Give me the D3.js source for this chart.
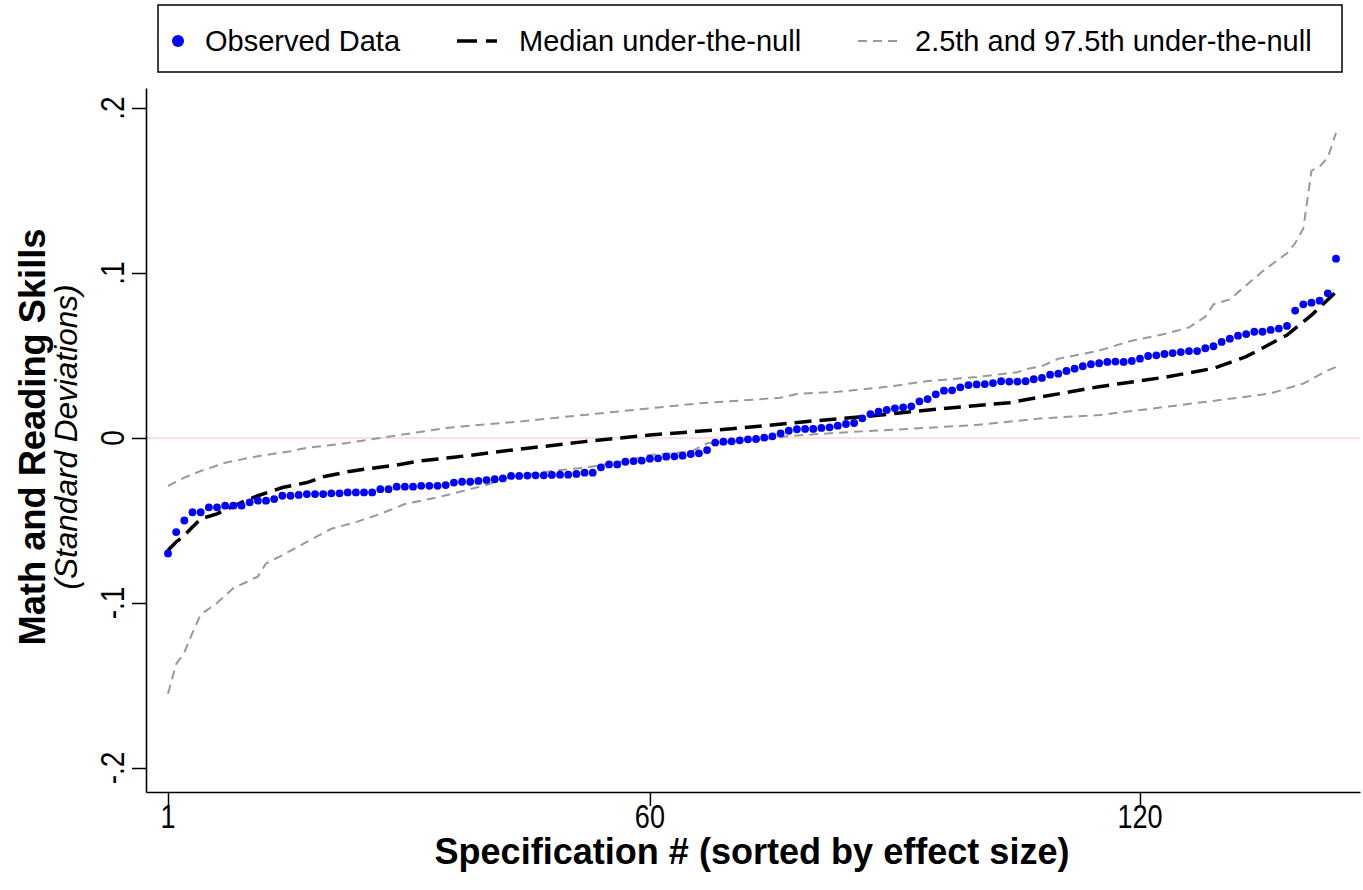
<!DOCTYPE html>
<html><head><meta charset="utf-8">
<script src="https://cdn.jsdelivr.net/npm/d3@7"></script>
<style>
body{margin:0;background:#fff}
svg{display:block}
text{font-family:"Liberation Sans",Arial,Helvetica,sans-serif;fill:#000}
</style>
</head><body>
<svg id="c" width="1363" height="890"></svg>
<script>
// ---------------- DATA ----------------
const observed = [
-0.070,-0.057,-0.050,-0.045,-0.045,-0.042,-0.042,-0.041,-0.041,-0.041,
-0.039,-0.038,-0.038,-0.037,-0.035,-0.035,-0.0345,-0.034,-0.034,-0.034,
-0.0335,-0.0335,-0.033,-0.033,-0.033,-0.033,-0.031,-0.031,-0.0295,-0.0295,
-0.0295,-0.029,-0.029,-0.029,-0.0285,-0.027,-0.0265,-0.0265,-0.026,-0.0255,
-0.025,-0.0245,-0.023,-0.023,-0.0228,-0.0226,-0.0226,-0.0224,-0.0222,-0.0222,
-0.0218,-0.021,-0.021,-0.0178,-0.016,-0.016,-0.0144,-0.014,-0.0137,-0.0125,
-0.0123,-0.0113,-0.0111,-0.0107,-0.0097,-0.0093,-0.0073,-0.0028,-0.0022,-0.002,
-0.0014,-0.0008,-0.0006,0.0002,0.001,0.0028,0.0044,0.0053,0.0055,0.0055,
0.0061,0.0065,0.0075,0.0085,0.0091,0.0119,0.0145,0.0159,0.017,0.018,
0.0186,0.0192,0.0222,0.0236,0.0265,0.0287,0.0289,0.0307,0.0321,0.0325,
0.0327,0.0333,0.0344,0.0342,0.0342,0.0344,0.0356,0.0364,0.0384,0.039,
0.0406,0.042,0.0435,0.0447,0.0453,0.0461,0.0463,0.0461,0.0467,0.0481,
0.0497,0.0501,0.0509,0.0515,0.0521,0.0527,0.0527,0.0544,0.0556,0.0582,
0.0602,0.062,0.063,0.0644,0.0644,0.0655,0.0663,0.0679,0.0772,0.081,
0.082,0.0832,0.0877,0.1087
];

const medianSpec = [1,2,3,4,5,7,10,12,15,18,20,23,25,29,32,36,44,52,60,68,72,79,87,95,104,107,115,123,129,133,138,141,144];
const medianVal  = [-0.068,-0.063,-0.059,-0.054,-0.049,-0.046,-0.039,-0.035,-0.030,-0.027,-0.0235,-0.0205,-0.019,-0.0164,-0.0138,-0.0117,-0.0068,-0.0022,0.0018,0.0048,0.0065,0.0099,0.0133,0.0174,0.0214,0.0241,0.0311,0.0368,0.0422,0.0493,0.0624,0.0745,0.0885];

const upperSpec = [1,3,5,8,12,16,18,23,27,31,35,37,44,52,60,66,72,76,78,83,89,94,100,105,106,108,110,115,119,123,126,128,129,131,135,138,139,140,141,142,143,144];
const upperVal  = [-0.029,-0.024,-0.020,-0.015,-0.011,-0.008,-0.006,-0.003,0.000,0.003,0.006,0.007,0.010,0.014,0.018,0.021,0.023,0.0244,0.0267,0.028,0.031,0.0345,0.037,0.0398,0.0416,0.0436,0.048,0.053,0.059,0.063,0.067,0.0735,0.081,0.084,0.101,0.112,0.118,0.127,0.162,0.1645,0.170,0.185];

const lowerSpec = [1,2,3,4,5,7,9,12,13,15,18,21,24,27,30,34,36,40,42,48,52,57,60,65,67,70,75,77,83,91,100,108,115,125,133,136,140,143,144];
const lowerVal  = [-0.155,-0.137,-0.130,-0.118,-0.107,-0.100,-0.091,-0.084,-0.076,-0.071,-0.063,-0.055,-0.051,-0.046,-0.040,-0.036,-0.0335,-0.0285,-0.0245,-0.020,-0.018,-0.014,-0.0103,-0.0083,-0.0032,-0.0022,-0.0002,0.0012,0.0032,0.0053,0.0079,0.0119,0.0139,0.020,0.025,0.027,0.033,0.041,0.043];

const xTicks = [1,60,120];
const yTicks = [-0.2,-0.1,0,0.1,0.2];
const yTickLabels = ["-.2","-.1","0",".1",".2"];
const legendLabels = ["Observed Data","Median under-the-null","2.5th and 97.5th under-the-null"];
const xTitle = "Specification # (sorted by effect size)";
const yTitle = "Math and Reading Skills";
const ySubtitle = "(Standard Deviations)";

// ---------------- CHART ----------------
const svg = d3.select("#c");
const x = d3.scaleLinear().domain([1,144]).range([168,1336]);
const y = d3.scaleLinear().domain([-0.2,0.2]).range([768,108]);
const xFull = x.copy().domain([x.invert(146), x.invert(1360)]).range([146,1360]);
const yFull = y.copy().domain([y.invert(792), y.invert(88)]).range([792,88]);

// zero reference line
svg.append("path")
  .attr("d", d3.line()([[xFull.range()[0]+1, y(0)],[xFull.range()[1], y(0)]]))
  .attr("stroke","#f6c4bb").attr("stroke-width",1.2).attr("fill","none");

const line = d3.line().x(d=>x(d[0])).y(d=>y(d[1]));
const zip = (a,b)=>a.map((v,i)=>[v,b[i]]);

// bands
[[upperSpec,upperVal],[lowerSpec,lowerVal]].forEach(([s,v])=>{
  svg.append("path").attr("d", line(zip(s,v)))
    .attr("fill","none").attr("stroke","#999").attr("stroke-width",2)
    .attr("stroke-dasharray","9,6");
});
// median
svg.append("path").attr("d", line(zip(medianSpec,medianVal)))
  .attr("fill","none").attr("stroke","#000").attr("stroke-width",3.5)
  .attr("stroke-dasharray","17,8");

// observed dots
svg.append("g").selectAll("circle").data(observed).join("circle")
  .attr("cx",(d,i)=>x(i+1)).attr("cy",d=>y(d)).attr("r",3.9)
  .attr("fill","#0000ff");

// axes
const gx = svg.append("g").attr("transform","translate(0,792)")
  .call(d3.axisBottom(xFull).tickValues(xTicks).tickSize(14).tickSizeOuter(0).tickFormat(""));
const gy = svg.append("g").attr("transform","translate(146,0)")
  .call(d3.axisLeft(yFull).tickValues(yTicks).tickSize(14).tickSizeOuter(0).tickFormat(""));
[gx,gy].forEach(g=>{
  g.select(".domain").attr("stroke","#000").attr("stroke-width",1.6);
  g.selectAll(".tick line").attr("stroke","#000").attr("stroke-width",1.5);
});

svg.append("g").selectAll("text").data(xTicks).join("text")
  .attr("transform",d=>`translate(${x(d)},828) scale(0.82,1)`)
  .attr("text-anchor","middle")
  .attr("font-size",33).text(d=>d);

svg.append("g").selectAll("text").data(yTicks).join("text")
  .attr("transform",d=>`translate(124,${y(d)}) rotate(-90) scale(0.85,1)`)
  .attr("text-anchor","middle").attr("font-size",33)
  .text((d,i)=>yTickLabels[i]);

// titles
svg.append("text").attr("x",752).attr("y",864).attr("text-anchor","middle")
  .attr("font-size",36).attr("font-weight","bold")
  .attr("textLength",635).attr("lengthAdjust","spacingAndGlyphs").text(xTitle);
svg.append("text").attr("transform","translate(45,437) rotate(-90)")
  .attr("text-anchor","middle").attr("font-size",36).attr("font-weight","bold")
  .attr("textLength",417).attr("lengthAdjust","spacingAndGlyphs").text(yTitle);
svg.append("text").attr("transform","translate(77,437) rotate(-90)")
  .attr("text-anchor","middle").attr("font-size",31).attr("font-style","italic")
  .attr("textLength",305).attr("lengthAdjust","spacingAndGlyphs").text(ySubtitle);

// legend
const lg = svg.append("g");
lg.append("rect").attr("x",158).attr("y",5).attr("width",1184).attr("height",67)
  .attr("fill","#fff").attr("stroke","#000").attr("stroke-width",1.5);
lg.append("circle").attr("cx",178).attr("cy",41).attr("r",6).attr("fill","#0000ff");
lg.append("path").attr("d",d3.line()([[457,41],[497,41]]))
  .attr("stroke","#000").attr("stroke-width",3.4).attr("stroke-dasharray","20,9");
lg.append("path").attr("d",d3.line()([[858,41],[900,41]]))
  .attr("stroke","#999").attr("stroke-width",2).attr("stroke-dasharray","9,6");
const lx = [205,519,915];
lg.selectAll("text.l").data(legendLabels).join("text").attr("class","l")
  .attr("x",(d,i)=>lx[i]).attr("y",51).attr("font-size",29).text(d=>d);
</script>
</body></html>
